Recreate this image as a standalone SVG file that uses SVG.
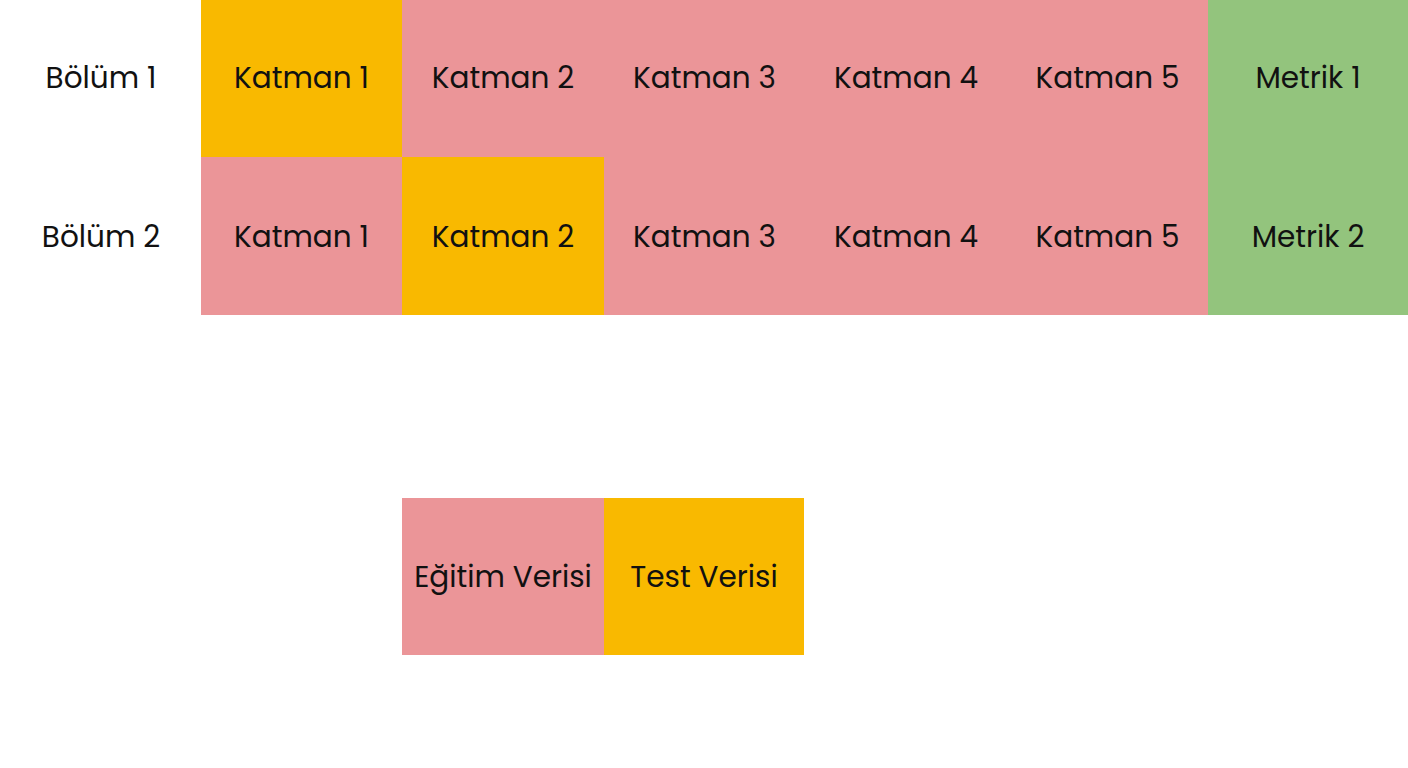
<svg xmlns="http://www.w3.org/2000/svg" width="1408" height="768" viewBox="0 0 1408 768">
<style>
.pink{fill:#EB9598}
.orange{fill:#F9B900}
.green{fill:#93C47D}
text{font-family:"Poppins","Inter","Noto Sans",sans-serif;font-size:29.5px;fill:#111;text-anchor:middle}
</style>
<rect x="0" y="0" width="1408" height="768" fill="#ffffff"/>
<g id="row-labels">
<text x="101" y="88">Bölüm 1</text>
<text x="101" y="247">Bölüm 2</text>
</g>
<g id="row1">
<g id="r1c1"><rect class="orange" x="201" y="0" width="201" height="157"/><text x="301.5" y="88">Katman 1</text></g>
<g id="r1c2"><rect class="pink" x="402" y="0" width="202" height="157"/><text x="503" y="88">Katman 2</text></g>
<g id="r1c3"><rect class="pink" x="604" y="0" width="201" height="157"/><text x="704.5" y="88">Katman 3</text></g>
<g id="r1c4"><rect class="pink" x="805" y="0" width="202" height="157"/><text x="906" y="88">Katman 4</text></g>
<g id="r1c5"><rect class="pink" x="1007" y="0" width="201" height="157"/><text x="1107.5" y="88">Katman 5</text></g>
<g id="r1m"><rect class="green" x="1208" y="0" width="200" height="157"/><text x="1308" y="88">Metrik 1</text></g>
</g>
<g id="row2">
<g id="r2c1"><rect class="pink" x="201" y="157" width="201" height="158"/><text x="301.5" y="247">Katman 1</text></g>
<g id="r2c2"><rect class="orange" x="402" y="157" width="202" height="158"/><text x="503" y="247">Katman 2</text></g>
<g id="r2c3"><rect class="pink" x="604" y="157" width="201" height="158"/><text x="704.5" y="247">Katman 3</text></g>
<g id="r2c4"><rect class="pink" x="805" y="157" width="202" height="158"/><text x="906" y="247">Katman 4</text></g>
<g id="r2c5"><rect class="pink" x="1007" y="157" width="201" height="158"/><text x="1107.5" y="247">Katman 5</text></g>
<g id="r2m"><rect class="green" x="1208" y="157" width="200" height="158"/><text x="1308" y="247">Metrik 2</text></g>
</g>
<g id="legend">
<g id="train"><rect class="pink" x="402" y="498" width="202" height="157"/><text x="503" y="587">Eğitim Verisi</text></g>
<g id="test"><rect class="orange" x="604" y="498" width="200" height="157"/><text x="704" y="587">Test Verisi</text></g>
</g>
<g id="connectors"/>
</svg>
